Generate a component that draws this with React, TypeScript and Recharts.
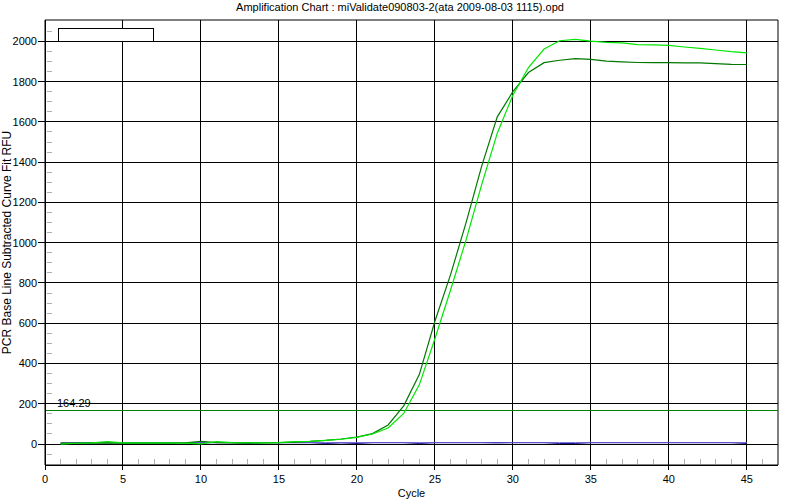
import React from 'react';
import { LineChart, Line, XAxis, YAxis, CartesianGrid, ReferenceLine, ReferenceArea, Label } from 'recharts';

const chartTitle = 'Amplification Chart : miValidate090803-2(ata 2009-08-03 1115).opd';
const xAxisTitle = 'Cycle';
const yAxisTitle = 'PCR Base Line Subtracted Curve Fit RFU';

const cycles = [1, 2, 3, 4, 5, 6, 7, 8, 9, 10, 11, 12, 13, 14, 15, 16, 17, 18, 19, 20, 21, 22, 23, 24, 25, 26, 27, 28, 29, 30, 31, 32, 33, 34, 35, 36, 37, 38, 39, 40, 41, 42, 43, 44, 45];

const wellDarkGreen = [5, 5, 5, 6, 5, 5, 5, 5, 6, 14, 7, 6, 6, 6, 7, 10, 13, 18, 25, 35, 52, 95, 190, 345, 610, 840, 1100, 1380, 1625, 1750, 1845, 1894, 1906, 1914, 1910, 1902, 1898, 1895, 1894, 1894, 1893, 1893, 1889, 1886, 1885];
const wellLightGreen = [0, 4, 6, 12, 6, 6, 6, 6, 5, 1, 12, 7, 6, 6, 7, 12, 13, 18, 24, 33, 50, 80, 152, 294, 523, 764, 1014, 1288, 1544, 1732, 1870, 1962, 2003, 2010, 2001, 1995, 1992, 1984, 1982, 1980, 1972, 1965, 1957, 1949, 1943];
const wellBlue = [7, 7, 7, 7, 7, 7, 7, 7, 7, 7, 7, 7, 7, 7, 7, 7, 7, 7, 7, 7, 7, 7, 7, 7, 7, 7, 7, 7, 5, 7, 7, 7, 7, 7, 7, 7, 7, 7, 7, 7, 7, 7, 7, 7, 7];
const wellNavy = [3, 7, 7, 7, 7, 7, 7, 7, 7, 7, 7, 7, 3, 7, 7, 7, 7, 3, 6, 3, 7, 7, 7, 3, 7, 7, 7, 7, 7, 7, 7, 7, 3, 3, 7, 7, 7, 7, 7, 7, 7, 7, 7, 7, 3];

const thresholdValue = 164.29;
const thresholdLabel = '164.29';

const xDomain = [0, 47];
const yDomain = [-104, 2106];
const xMajorTicks = [0, 5, 10, 15, 20, 25, 30, 35, 40, 45];
const xMinorTicks = [1, 2, 3, 4, 6, 7, 8, 9, 11, 12, 13, 14, 16, 17, 18, 19, 21, 22, 23, 24, 26, 27, 28, 29, 31, 32, 33, 34, 36, 37, 38, 39, 41, 42, 43, 44, 46];
const yMajorTicks = [0, 200, 400, 600, 800, 1000, 1200, 1400, 1600, 1800, 2000];
const yMinorTicks = [-50, 50, 100, 150, 250, 300, 350, 450, 500, 550, 650, 700, 750, 850, 900, 950, 1050, 1100, 1150, 1250, 1300, 1350, 1450, 1500, 1550, 1650, 1700, 1750, 1850, 1900, 1950, 2050];

const chartData = cycles.map((c, i) => ({
  cycle: c,
  dg: wellDarkGreen[i],
  lg: wellLightGreen[i],
  blue: wellBlue[i],
  navy: wellNavy[i],
}));

const FONT = '"Liberation Sans", Arial, sans-serif';

const XTick = (props: any) => {
  const { x, y, payload } = props;
  const v = payload.value;
  if (xMajorTicks.includes(v)) {
    return (
      <g>
        <line x1={x} x2={x} y1={y} y2={y + 5} stroke="#000" shapeRendering="crispEdges" />
        <text x={x} y={y + 10} dy="0.71em" textAnchor="middle" fontSize={11} fill="#000" fontFamily={FONT}>
          {v}
        </text>
      </g>
    );
  }
  return <line x1={x} x2={x} y1={y - 1} y2={y - 6} stroke="#b0b0b0" shapeRendering="crispEdges" />;
};

const YTick = (props: any) => {
  const { x, y, payload } = props;
  const v = payload.value;
  if (yMajorTicks.includes(v)) {
    return (
      <g>
        <line x1={x - 7} x2={x} y1={y} y2={y} stroke="#000" shapeRendering="crispEdges" />
        <text x={x - 8} y={y} dy="0.355em" textAnchor="end" fontSize={11} fill="#000" fontFamily={FONT}>
          {v}
        </text>
      </g>
    );
  }
  return <line x1={x + 2} x2={x + 7} y1={y} y2={y} stroke="#b0b0b0" shapeRendering="crispEdges" />;
};

export default function App() {
  return (
    <div style={{ position: 'absolute', left: 0, top: 0, width: 800, height: 500, background: '#fff', fontFamily: FONT }}>
      <style>{`.recharts-cartesian-grid line, .recharts-reference-line line, .recharts-cartesian-axis-line, .recharts-reference-area rect { shape-rendering: crispEdges; }`}</style>
      <div style={{ position: 'absolute', left: 0, top: 0, width: 800, textAlign: 'center', fontSize: 11, lineHeight: '14px', color: '#000' }}>
        {chartTitle}
      </div>
      <LineChart width={800} height={500} data={chartData} margin={{ top: 20, right: 22, bottom: 0, left: 0 }}>
        <CartesianGrid
          stroke="#000"
          horizontalValues={yMajorTicks}
          verticalValues={xMajorTicks}
          fill="none"
        />
        <ReferenceArea
          x1={xDomain[0]}
          x2={xDomain[1]}
          y1={yDomain[0]}
          y2={yDomain[1]}
          fill="none"
          fillOpacity={0}
          stroke="#000"
          strokeOpacity={1}
          ifOverflow="visible"
        />
        <XAxis
          dataKey="cycle"
          type="number"
          domain={xDomain}
          ticks={[...xMajorTicks, ...xMinorTicks]}
          interval={0}
          tickLine={false}
          tickSize={0}
          tickMargin={0}
          tick={(p: any) => <XTick {...p} />}
          axisLine={{ stroke: '#000' }}
          height={35}
          allowDataOverflow
        >
          <Label value={xAxisTitle} position="insideBottom" offset={3} fontSize={11} fill="#000" fontFamily={FONT} />
        </XAxis>
        <YAxis
          type="number"
          domain={yDomain}
          ticks={[...yMajorTicks, ...yMinorTicks]}
          interval={0}
          tickLine={false}
          tickSize={0}
          tickMargin={0}
          tick={(p: any) => <YTick {...p} />}
          axisLine={{ stroke: '#000' }}
          width={45}
          allowDataOverflow
        >
          <Label
            value={yAxisTitle}
            angle={-90}
            position="insideLeft"
            offset={7}
            fontSize={12}
            fill="#000"
            fontFamily={FONT}
            style={{ textAnchor: 'middle' }}
          />
        </YAxis>
        <ReferenceLine
          y={thresholdValue}
          stroke="#008000"
          strokeWidth={1}
          label={(p: any) => {
            const vb = p.viewBox || {};
            return (
              <text x={(vb.x ?? 45) + 12} y={(vb.y ?? 0) - 4} fontSize={11} fill="#000" fontFamily={FONT}>
                {thresholdLabel}
              </text>
            );
          }}
        />
        <Line dataKey="navy" type="linear" stroke="#000080" strokeWidth={1} dot={false} activeDot={false} isAnimationActive={false} />
        <Line dataKey="blue" type="linear" stroke="#6a5ad8" strokeWidth={1} dot={false} activeDot={false} isAnimationActive={false} />
        <Line dataKey="dg" type="linear" stroke="#007800" strokeWidth={1.2} dot={false} activeDot={false} isAnimationActive={false} />
        <Line dataKey="lg" type="linear" stroke="#00e600" strokeWidth={1.2} dot={false} activeDot={false} isAnimationActive={false} />
      </LineChart>
      <div
        style={{
          position: 'absolute',
          left: 58,
          top: 28,
          width: 96,
          height: 14,
          boxSizing: 'border-box',
          border: '1px solid #000',
          background: '#fff',
        }}
      />
    </div>
  );
}
